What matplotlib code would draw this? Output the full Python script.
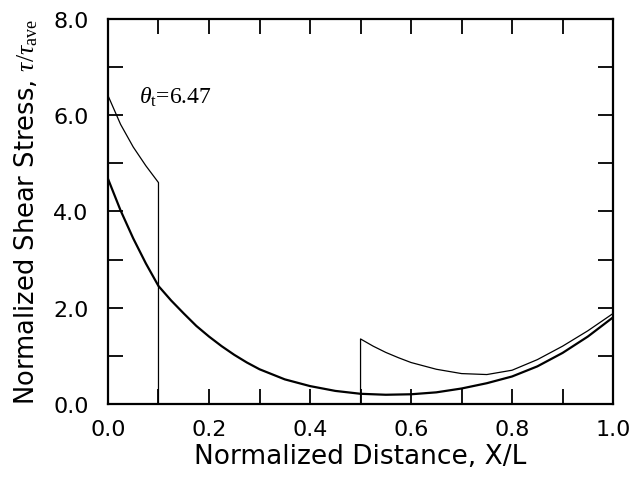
import matplotlib
matplotlib.use("Agg")
import matplotlib.pyplot as plt
from matplotlib.ticker import MultipleLocator

plt.rcParams["font.family"] = ["DejaVu Sans"]
plt.rcParams["mathtext.fontset"] = "custom"
plt.rcParams["mathtext.it"] = "Liberation Serif:italic"
plt.rcParams["mathtext.rm"] = "Liberation Serif"

# thick curve (continuous)
x_thick = [0.0, 0.025, 0.05, 0.075, 0.1, 0.125, 0.15, 0.175, 0.2, 0.225, 0.25, 0.275,
           0.3, 0.35, 0.4, 0.45, 0.5, 0.55, 0.6, 0.65, 0.7, 0.75, 0.8, 0.85, 0.9,
           0.95, 1.0]
y_thick = [4.68, 4.02, 3.44, 2.92, 2.45, 2.15, 1.88, 1.62, 1.4, 1.2, 1.02, 0.86,
           0.72, 0.51, 0.37, 0.27, 0.21, 0.19, 0.2, 0.24, 0.32, 0.43, 0.57, 0.78, 1.06,
           1.4, 1.8]

# thin curve (discontinuous, theta_t = 6.47)
x_thin = [0.0, 0.025, 0.05, 0.075, 0.1, 0.1, 0.5, 0.5, 0.525, 0.55, 0.575, 0.6,
          0.65, 0.7, 0.75, 0.8, 0.85, 0.9, 0.95, 1.0]
y_thin = [6.41, 5.81, 5.34, 4.95, 4.6, 0.0, 0.0, 1.35, 1.2, 1.07, 0.96, 0.86,
          0.72, 0.63, 0.61, 0.7, 0.92, 1.2, 1.52, 1.88]

fig = plt.figure(figsize=(6.37, 4.89), dpi=100)
ax = fig.add_axes([0.1695, 0.172, 0.793, 0.787])

ax.plot(x_thick, y_thick, color="black", linewidth=1.6)
ax.plot(x_thin, y_thin, color="black", linewidth=0.9)

ax.text(0.062, 6.4, r"$\theta_{\rm t}$=6.47", fontsize=17, family="Liberation Serif",
        va="center", ha="left")

ax.set_xlim(0, 1.0)
ax.set_ylim(0, 8.0)
ax.xaxis.set_major_locator(MultipleLocator(0.2))
ax.xaxis.set_minor_locator(MultipleLocator(0.1))
ax.yaxis.set_major_locator(MultipleLocator(2.0))
ax.yaxis.set_minor_locator(MultipleLocator(1.0))
ax.xaxis.set_major_formatter(lambda v, _: f"{v:.1f}")
ax.yaxis.set_major_formatter(lambda v, _: f"{v:.1f}")
ax.tick_params(which="both", direction="in", top=True, right=True,
               length=11, width=1.3, labelsize=16)
ax.tick_params(axis="x", pad=11)
ax.tick_params(axis="y", pad=14)

for spine in ax.spines.values():
    spine.set_linewidth(1.6)

ax.set_xlabel("Normalized Distance, X/L", fontsize=19, labelpad=3)
ax.set_ylabel(r"Normalized Shear Stress, $\tau/\tau_{\rm ave}$", fontsize=18.5, labelpad=9)

fig.savefig("out.png", dpi=100)
